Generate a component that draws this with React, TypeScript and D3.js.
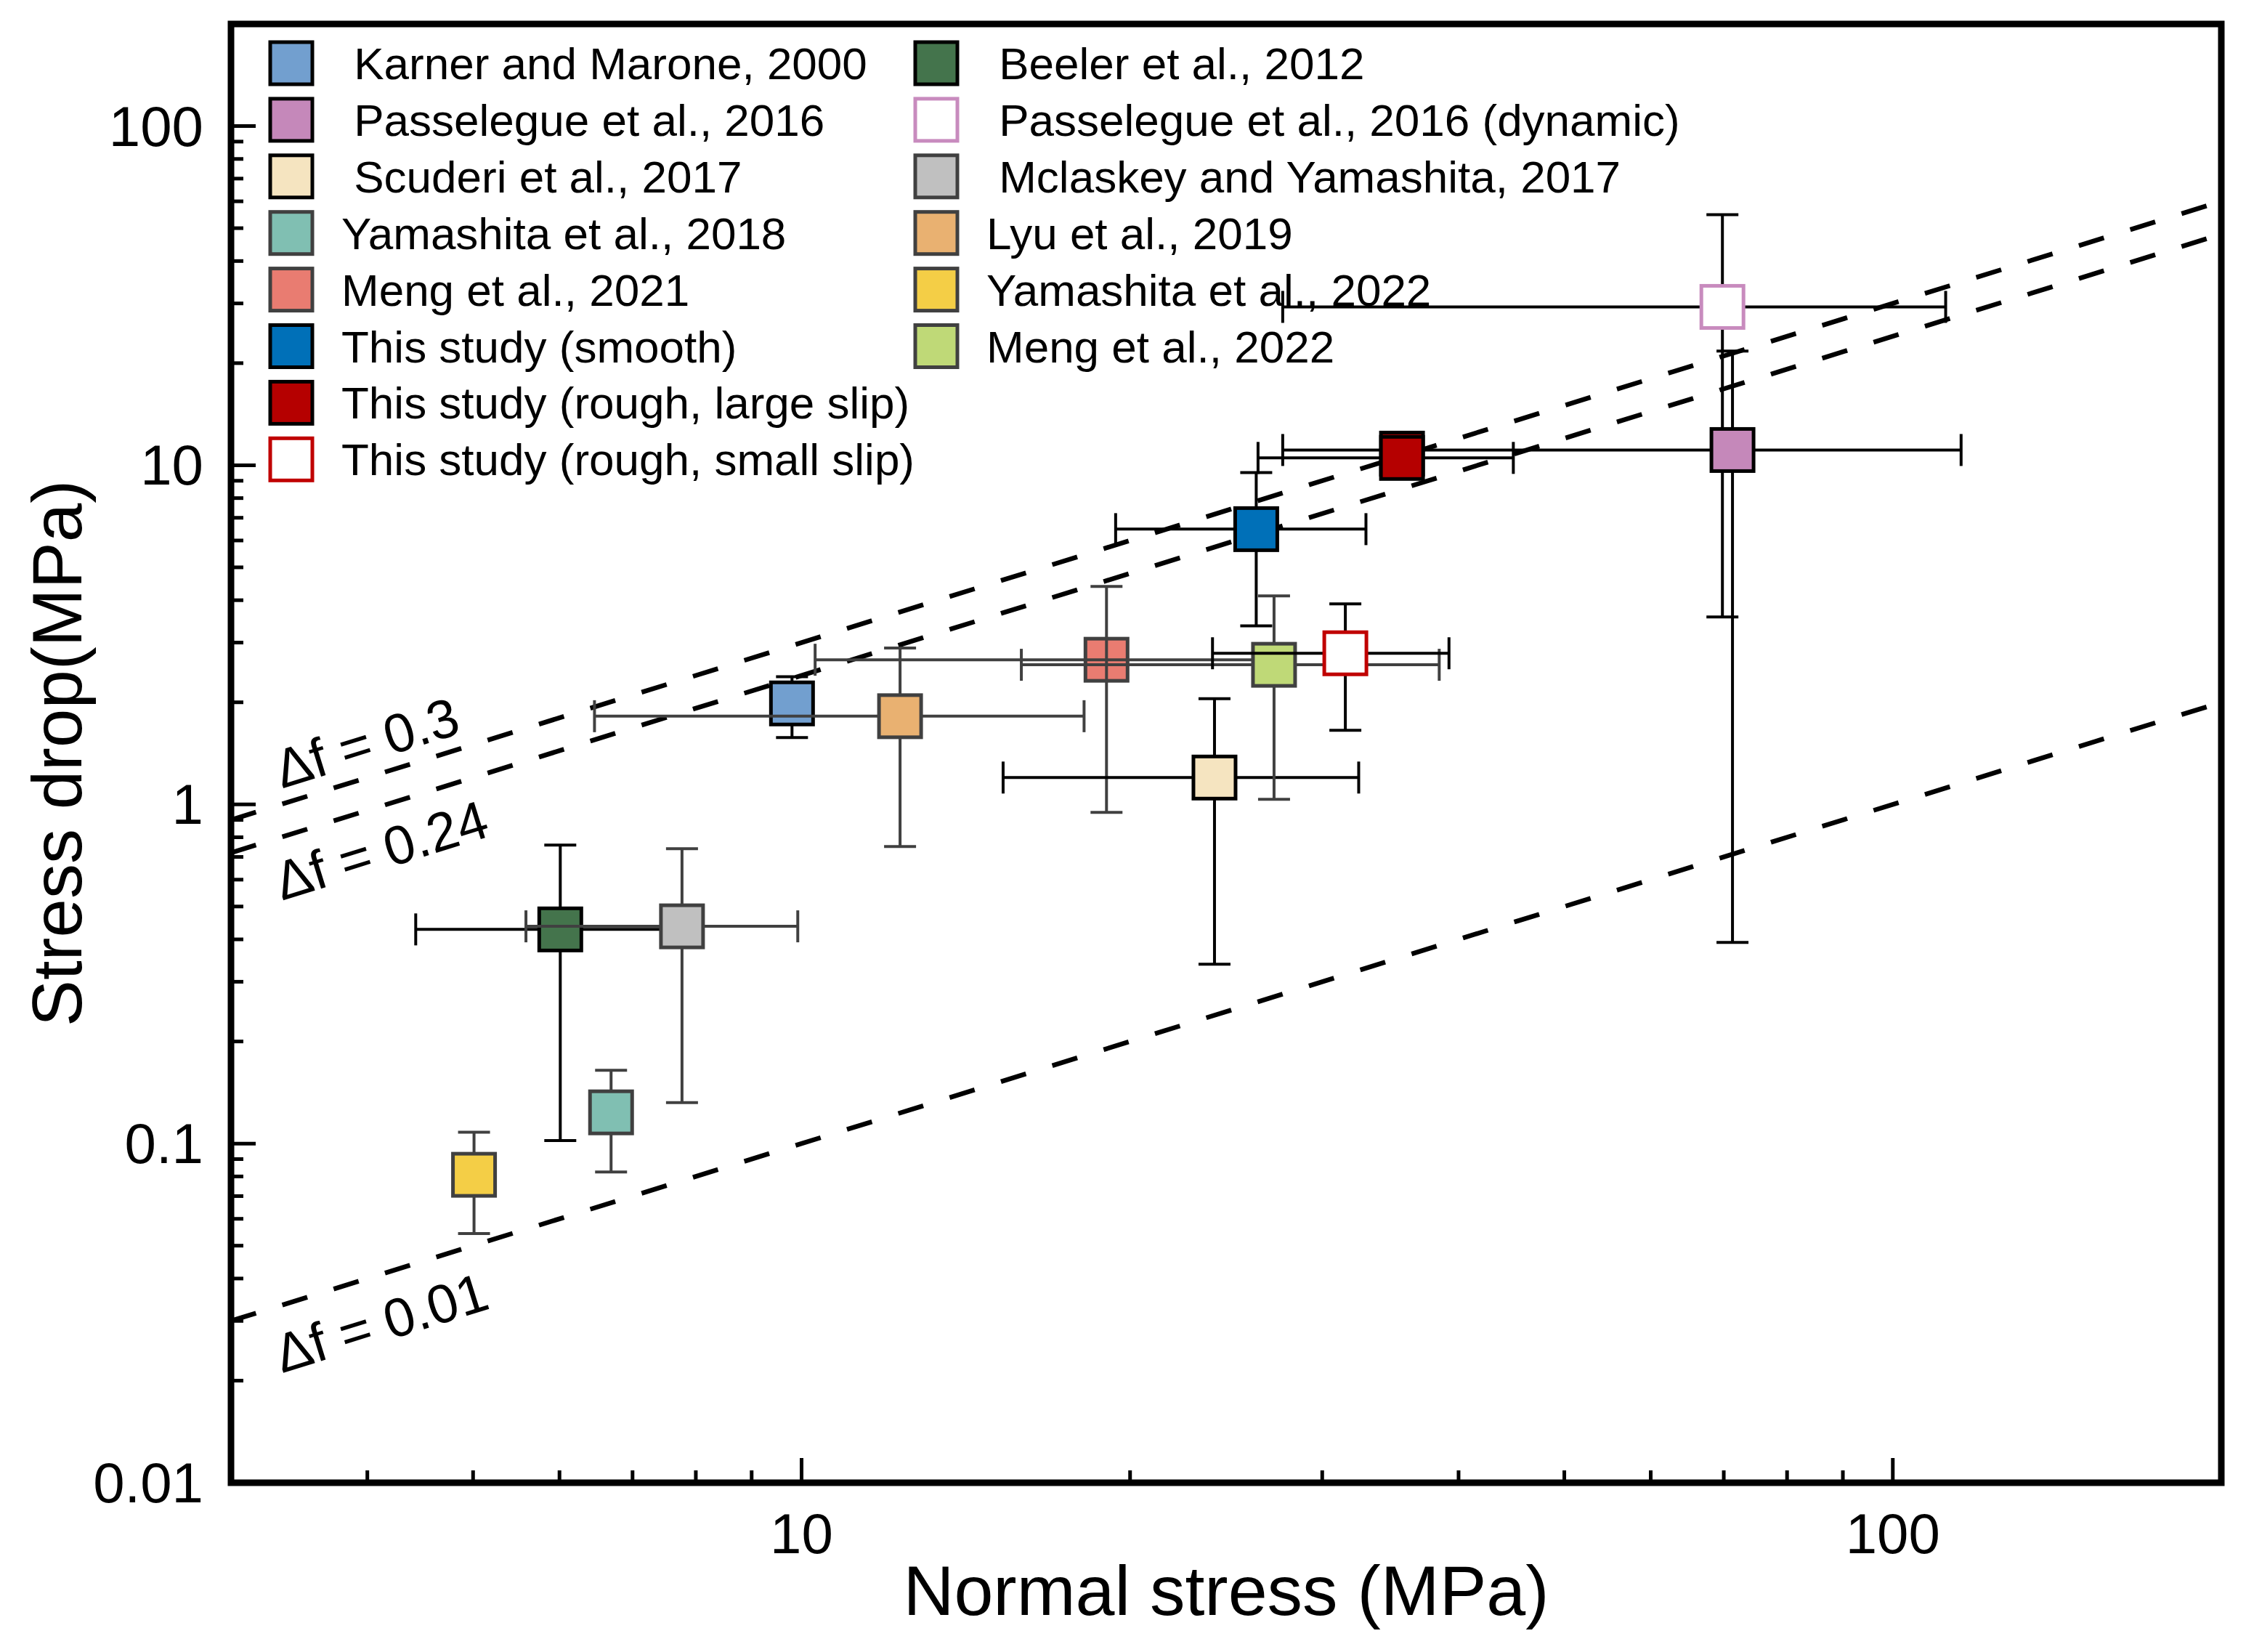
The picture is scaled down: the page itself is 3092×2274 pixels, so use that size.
import * as d3 from 'd3';

// legend rows, left and right column (leading space kept as in the figure)
const legendLeft = [
  ' Karner and Marone, 2000',
  ' Passelegue et al., 2016',
  ' Scuderi et al., 2017',
  'Yamashita et al., 2018',
  'Meng et al., 2021',
  'This study (smooth)',
  'This study (rough, large slip)',
  'This study (rough, small slip)',
];
const legendRight = [
  ' Beeler et al., 2012',
  ' Passelegue et al., 2016 (dynamic)',
  ' Mclaskey and Yamashita, 2017',
  'Lyu et al., 2019',
  'Yamashita et al., 2022',
  'Meng et al., 2022',
];

const styles: Record<string, { fill: string; stroke: string; bar: string }> = {
  'Karner and Marone, 2000': { fill: '#729fcf', stroke: '#000', bar: '#000' },
  'Passelegue et al., 2016': { fill: '#c588ba', stroke: '#000', bar: '#000' },
  'Scuderi et al., 2017': { fill: '#f5e4c0', stroke: '#000', bar: '#000' },
  'Yamashita et al., 2018': { fill: '#80bfb2', stroke: '#404040', bar: '#404040' },
  'Meng et al., 2021': { fill: '#e97c71', stroke: '#404040', bar: '#404040' },
  'This study (smooth)': { fill: '#0070b8', stroke: '#000', bar: '#000' },
  'This study (rough, large slip)': { fill: '#b50000', stroke: '#000', bar: '#000' },
  'This study (rough, small slip)': { fill: '#fff', stroke: '#c00000', bar: '#000' },
  'Beeler et al., 2012': { fill: '#44744c', stroke: '#000', bar: '#000' },
  'Passelegue et al., 2016 (dynamic)': { fill: '#fff', stroke: '#c88bbe', bar: '#000' },
  'Mclaskey and Yamashita, 2017': { fill: '#c0c0c0', stroke: '#404040', bar: '#404040' },
  'Lyu et al., 2019': { fill: '#e9b171', stroke: '#404040', bar: '#404040' },
  'Yamashita et al., 2022': { fill: '#f4ce46', stroke: '#404040', bar: '#404040' },
  'Meng et al., 2022': { fill: '#bfd977', stroke: '#404040', bar: '#404040' },
};

type Pt = {
  name: string;
  x: number;
  y: number;
  xLo?: number;
  xHi?: number;
  yLo?: number;
  yHi?: number;
};

// normal stress (MPa), stress drop (MPa), error bar ends; listed in drawing order
const points: Pt[] = [
  { name: 'Beeler et al., 2012', x: 6.01, y: 0.428, xLo: 4.43, xHi: 8.0, yLo: 0.102, yHi: 0.759 },
  { name: 'Mclaskey and Yamashita, 2017', x: 7.77, y: 0.437, xLo: 5.59, xHi: 9.92, yLo: 0.132, yHi: 0.74 },
  { name: 'Yamashita et al., 2022', x: 5.01, y: 0.0809, yLo: 0.0543, yHi: 0.108 },
  { name: 'Yamashita et al., 2018', x: 6.69, y: 0.1236, yLo: 0.0825, yHi: 0.1645 },
  { name: 'Karner and Marone, 2000', x: 9.8, y: 1.985, yLo: 1.574, yHi: 2.38 },
  { name: 'Lyu et al., 2019', x: 12.31, y: 1.82, xLo: 6.46, xHi: 18.15, yLo: 0.751, yHi: 2.89 },
  { name: 'Meng et al., 2021', x: 19.03, y: 2.67, xLo: 10.29, xHi: 27.0, yLo: 0.947, yHi: 4.39 },
  { name: 'Scuderi et al., 2017', x: 23.9, y: 1.2, xLo: 15.3, xHi: 32.4, yLo: 0.338, yHi: 2.05 },
  { name: 'Meng et al., 2022', x: 27.1, y: 2.58, xLo: 15.9, xHi: 38.4, yLo: 1.035, yHi: 4.12 },
  { name: 'This study (rough, small slip)', x: 31.5, y: 2.79, xLo: 23.8, xHi: 39.2, yLo: 1.654, yHi: 3.9 },
  { name: 'This study (smooth)', x: 26.1, y: 6.48, xLo: 19.4, xHi: 32.9, yLo: 3.36, yHi: 9.52 },
  { name: 'Passelegue et al., 2016 (dynamic)', x: 69.8, y: 29.3, xLo: 27.6, xHi: 111.8, yLo: 3.57, yHi: 54.8 },
  { name: 'Passelegue et al., 2016', x: 71.3, y: 11.09, xLo: 27.6, xHi: 115.5, yLo: 0.392, yHi: 21.7 },
  { name: 'This study (rough, large slip)', x: 35.5, y: 10.82 },
  { name: 'This study (rough, large slip)', x: 35.5, y: 10.51, xLo: 26.2, xHi: 44.9 },
];

// friction drop lines: stress drop = df * normal stress
const frictionDrops = [0.3, 0.24, 0.01];
const frictionLabels = ['Δf = 0.3', 'Δf = 0.24', 'Δf = 0.01'];

const xTickValues = [10, 100];
const xTickLabels = ['10', '100'];
const yTickValues = [0.01, 0.1, 1, 10, 100];
const yTickLabels = ['0.01', '0.1', '1', '10', '100'];

const W = 3092;
const H = 2274;
const left = 318;
const right = 3058;
const top = 33;
const bottom = 2041;
const FONT = '"Liberation Sans", Arial, Helvetica, sans-serif';

const x = d3.scaleLog().domain([3, 200]).range([left, right]);
const y = d3.scaleLog().domain([0.01, 200]).range([bottom, top]);

const BOX = 58;
const CAP = 22;

function ErrorBars({ p }: { p: Pt }) {
  const s = styles[p.name];
  const cx = x(p.x);
  const cy = y(p.y);
  const parts: JSX.Element[] = [];
  if (p.xLo != null && p.xHi != null) {
    const a = x(p.xLo);
    const b = x(p.xHi);
    parts.push(<line key="h" x1={a} x2={b} y1={cy} y2={cy} />);
    parts.push(<line key="hl" x1={a} x2={a} y1={cy - CAP} y2={cy + CAP} />);
    parts.push(<line key="hr" x1={b} x2={b} y1={cy - CAP} y2={cy + CAP} />);
  }
  if (p.yLo != null && p.yHi != null) {
    const a = y(p.yLo);
    const b = y(p.yHi);
    parts.push(<line key="v" x1={cx} x2={cx} y1={a} y2={b} />);
    parts.push(<line key="vl" x1={cx - CAP} x2={cx + CAP} y1={a} y2={a} />);
    parts.push(<line key="vh" x1={cx - CAP} x2={cx + CAP} y1={b} y2={b} />);
  }
  return (
    <g stroke={s.bar} strokeWidth={4}>
      {parts}
    </g>
  );
}

// bars of this series sit above its own symbol in the figure
const barsOnTop = new Set(['Meng et al., 2021']);

export default function App() {
  const isMajor = (t: number, list: number[]) => list.some((v) => Math.abs(v - t) / v < 1e-6);
  const yMinor = y.ticks().filter((t) => !isMajor(t, yTickValues));
  const xMinor = x.ticks().filter((t) => t > 3 && t < 200 && !isMajor(t, xTickValues));

  // slope of the dashed lines on screen, used to tilt their labels
  const angle = (Math.atan((y(1) - y(10)) / (x(100) - x(10))) * 180) / Math.PI;

  const labelX = 3.34;
  const labelOffset = [-21, 88, 94];

  const rowY = (i: number) => 87 + i * 77.9;

  return (
    <>
      <style>{`body{margin:0}`}</style>
      <svg width={W} height={H} viewBox={`0 0 ${W} ${H}`} style={{ display: 'block', background: '#fff' }}>
        <defs>
          <clipPath id="plot">
            <rect x={left} y={top} width={right - left} height={bottom - top} />
          </clipPath>
        </defs>

        {/* friction drop lines */}
        <g clipPath="url(#plot)" fill="none" stroke="#000" strokeWidth={6.5} strokeDasharray="36 38">
          {frictionDrops.map((df) => (
            <line key={df} x1={x(3)} y1={y(df * 3)} x2={x(200)} y2={y(df * 200)} />
          ))}
        </g>
        {frictionLabels.map((t, i) => {
          const px = x(labelX);
          const py = y(frictionDrops[i] * labelX) + labelOffset[i];
          return (
            <text
              key={t}
              x={px}
              y={py}
              transform={`rotate(${-angle} ${px} ${py})`}
              fontFamily={FONT}
              fontSize={75}
              fill="#000"
            >
              {t}
            </text>
          );
        })}

        {/* data */}
        {points.map((p, i) => {
          const s = styles[p.name];
          const onTop = barsOnTop.has(p.name);
          return (
            <g key={i}>
              {!onTop && <ErrorBars p={p} />}
              <rect
                x={x(p.x) - BOX / 2}
                y={y(p.y) - BOX / 2}
                width={BOX}
                height={BOX}
                fill={s.fill}
                stroke={s.stroke}
                strokeWidth={5}
              />
              {onTop && <ErrorBars p={p} />}
            </g>
          );
        })}

        {/* frame */}
        <rect x={left} y={top} width={right - left} height={bottom - top} fill="none" stroke="#000" strokeWidth={9} />

        {/* ticks */}
        <g stroke="#000" strokeWidth={5}>
          {yTickValues.map((v) => (
            <line key={v} x1={left} x2={left + 34} y1={y(v)} y2={y(v)} />
          ))}
          {yMinor.map((v) => (
            <line key={'m' + v} x1={left} x2={left + 17} y1={y(v)} y2={y(v)} />
          ))}
          {xTickValues.map((v) => (
            <line key={'x' + v} x1={x(v)} x2={x(v)} y1={bottom} y2={bottom - 34} />
          ))}
          {xMinor.map((v) => (
            <line key={'xm' + v} x1={x(v)} x2={x(v)} y1={bottom} y2={bottom - 17} />
          ))}
        </g>
        <g fontFamily={FONT} fontSize={78} fill="#000">
          {yTickValues.map((v, i) => (
            <text key={v} x={280} y={y(v) + 27} textAnchor="end">
              {yTickLabels[i]}
            </text>
          ))}
          {xTickValues.map((v, i) => (
            <text key={v} x={x(v)} y={2138} textAnchor="middle">
              {xTickLabels[i]}
            </text>
          ))}
        </g>

        {/* axis titles */}
        <text x={(left + right) / 2} y={2223} textAnchor="middle" fontFamily={FONT} fontSize={97}>
          Normal stress (MPa)
        </text>
        <text
          x={112}
          y={(top + bottom) / 2}
          transform={`rotate(-90 112 ${(top + bottom) / 2})`}
          textAnchor="middle"
          fontFamily={FONT}
          fontSize={96}
        >
          Stress drop(MPa)
        </text>

        {/* legend */}
        {[
          { items: legendLeft, boxX: 401, textX: 470 },
          { items: legendRight, boxX: 1289, textX: 1358 },
        ].map((col, c) =>
          col.items.map((label, i) => {
            const s = styles[label.trim()];
            return (
              <g key={c + '-' + i}>
                <rect
                  x={col.boxX - BOX / 2}
                  y={rowY(i) - BOX / 2}
                  width={BOX}
                  height={BOX}
                  fill={s.fill}
                  stroke={s.stroke}
                  strokeWidth={5}
                />
                <text
                  x={col.textX}
                  y={rowY(i) + 22}
                  fontFamily={FONT}
                  fontSize={62}
                  style={{ whiteSpace: 'pre' }}
                >
                  {label}
                </text>
              </g>
            );
          })
        )}
      </svg>
    </>
  );
}
